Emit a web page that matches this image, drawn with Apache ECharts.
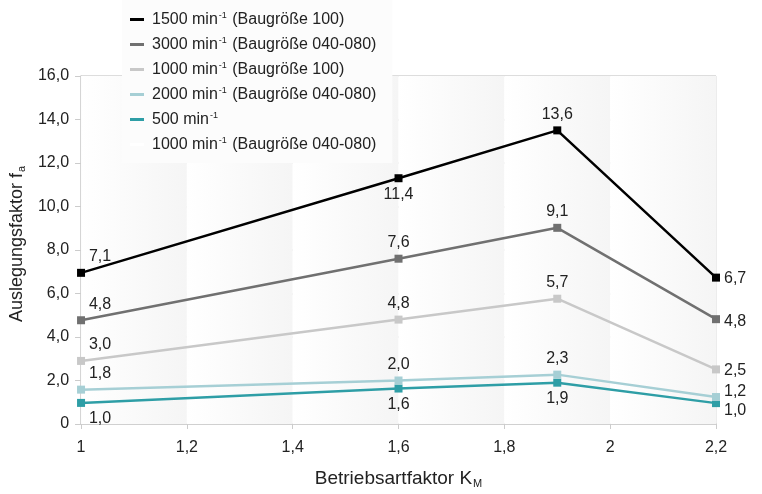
<!DOCTYPE html>
<html><head><meta charset="utf-8">
<script src="https://cdn.jsdelivr.net/npm/echarts@6/dist/echarts.min.js"></script>
<style>html,body{margin:0;padding:0;background:#fff}#c{width:762px;height:494px}</style>
</head><body><div id="c"></div>
<script>
const xValues = [1, 1.6, 1.9, 2.2];
const seriesNames = [
  '1500 min-1 (Baugröße 100)',
  '3000 min-1 (Baugröße 040-080)',
  '1000 min-1 (Baugröße 100)',
  '2000 min-1 (Baugröße 040-080)',
  '500 min-1',
  '1000 min-1 (Baugröße 040-080)'
];
const s1500 = [6.95, 11.3, 13.5, 6.73];
const s3000 = [4.77, 7.6, 9.02, 4.82];
const s1000 = [2.9, 4.8, 5.76, 2.51];
const s2000 = [1.58, 2.0, 2.27, 1.24];
const s500 = [0.97, 1.63, 1.9, 0.96];
const l1500 = ['7,1', '11,4', '13,6', '6,7'];
const l3000 = ['4,8', '7,6', '9,1', '4,8'];
const l1000 = ['3,0', '4,8', '5,7', '2,5'];
const l2000 = ['1,8', '2,0', '2,3', '1,2'];
const l500 = ['1,0', '1,6', '1,9', '1,0'];
const xTicks = [1, 1.2, 1.4, 1.6, 1.8, 2, 2.2];

const colors = ['#000000', '#707070', '#c8c8c8', '#a6cfd5', '#2e9ea6', '#ffffff'];
const allData = [s1500, s3000, s1000, s2000, s500, []];
const allLabels = [l1500, l3000, l1000, l2000, l500, []];
const posSets = [
  ['top', 'bottom', 'top', 'right'],
  ['top', 'top', 'top', 'right'],
  ['top', 'top', 'top', 'right'],
  ['top', 'top', 'top', 'right'],
  ['bottom', 'bottom', 'bottom', 'right']
];
const rightOffsets = [[0, 1], [0, 2], [0, 1], [0, -5], [0, 7]];

const bands = [];
for (let i = 0; i < xTicks.length - 1; i++) {
  bands.push([{ xAxis: xTicks[i] }, { xAxis: xTicks[i + 1] }]);
}

const series = allData.map((d, si) => ({
  name: seriesNames[si],
  type: 'line',
  data: d.map((v, i) => {
    const pos = posSets[si][i];
    const off = i === 0 ? [19, 0] : (pos === 'right' ? rightOffsets[si] : [0, 0]);
    return {
      value: [xValues[i], v],
      label: { show: true, position: pos, offset: off, distance: 4,
               formatter: () => allLabels[si][i] }
    };
  }),
  color: colors[si],
  symbol: 'rect',
  symbolSize: 8,
  lineStyle: { width: 2.5, color: colors[si] },
  itemStyle: { color: colors[si] },
  label: { color: '#222', fontSize: 16, fontFamily: 'Liberation Sans' },
  z: 10 - si,
  animation: false
}));
series.push({
  type: 'line', data: [], silent: true, animation: false,
  markArea: {
    silent: true,
    itemStyle: {
      opacity: 1,
      color: { type: 'linear', x: 0, y: 0, x2: 1, y2: 0,
        colorStops: [{ offset: 0, color: '#ffffff' }, { offset: 1, color: '#f5f5f5' }] }
    },
    data: bands
  },
  z: -1
});

const fmtNum = v => String(+(+v).toFixed(1)).replace('.', ',');
const subStyle = { fontSize: 11, verticalAlign: 'bottom', padding: [9, 0, 0, 1], color: '#222' };
const chart = echarts.init(document.getElementById('c'), null, { renderer: 'canvas' });
chart.setOption({
  backgroundColor: '#fff',
  animation: false,
  textStyle: { fontFamily: 'Liberation Sans' },
  grid: { left: 80, right: 46, top: 76, bottom: 66, show: true, borderColor: '#d9d9d9', borderWidth: 1, backgroundColor: 'transparent' },
  legend: {
    data: seriesNames,
    orient: 'vertical',
    left: 122, top: 0,
    padding: [11, 16, 10, 8],
    itemGap: 8,
    itemWidth: 14, itemHeight: 3,
    icon: 'rect',
    backgroundColor: '#fcfcfc',
    selectedMode: false,
    z: 20,
    formatter: n => n.replace('min-1', 'min{sup|-1}'),
    textStyle: {
      fontSize: 16, color: '#222', fontFamily: 'Liberation Sans', lineHeight: 17, padding: [0, 0, 0, 3],
      rich: { sup: { fontSize: 9, verticalAlign: 'top', lineHeight: 17, color: '#222', padding: [0, 1, 0, 1] } }
    }
  },
  xAxis: {
    type: 'value', min: 1, max: 2.2, interval: 0.2,
    name: 'Betriebsartfaktor K{sub|M}', nameLocation: 'middle', nameGap: 45,
    nameTextStyle: { fontSize: 19, color: '#222', fontFamily: 'Liberation Sans', rich: { sub: subStyle } },
    axisLine: { show: true, lineStyle: { color: '#cccccc', width: 1.5 } },
    axisTick: { show: true, length: 5, lineStyle: { color: '#cccccc' } },
    splitLine: { show: false },
    axisLabel: { fontSize: 16, color: '#222', margin: 16, formatter: fmtNum }
  },
  yAxis: {
    type: 'value', min: 0, max: 16, interval: 2,
    name: 'Auslegungsfaktor f{sub|a}', nameLocation: 'middle', nameGap: 50, nameRotate: 90,
    nameTextStyle: { fontSize: 18, color: '#222', fontFamily: 'Liberation Sans', padding: [0, 0, 0, 12], rich: { sub: subStyle } },
    axisLine: { show: true, lineStyle: { color: '#cccccc', width: 1.5 } },
    axisTick: { show: true, length: 6, lineStyle: { color: '#cccccc' } },
    splitLine: { show: true, lineStyle: { color: '#d9d9d9', width: 1.5 } },
    axisLabel: { fontSize: 16, color: '#222', margin: 12,
      formatter: v => v === 0 ? '0' : (+v).toFixed(1).replace('.', ',') }
  },
  series: series
});
</script></body></html>
